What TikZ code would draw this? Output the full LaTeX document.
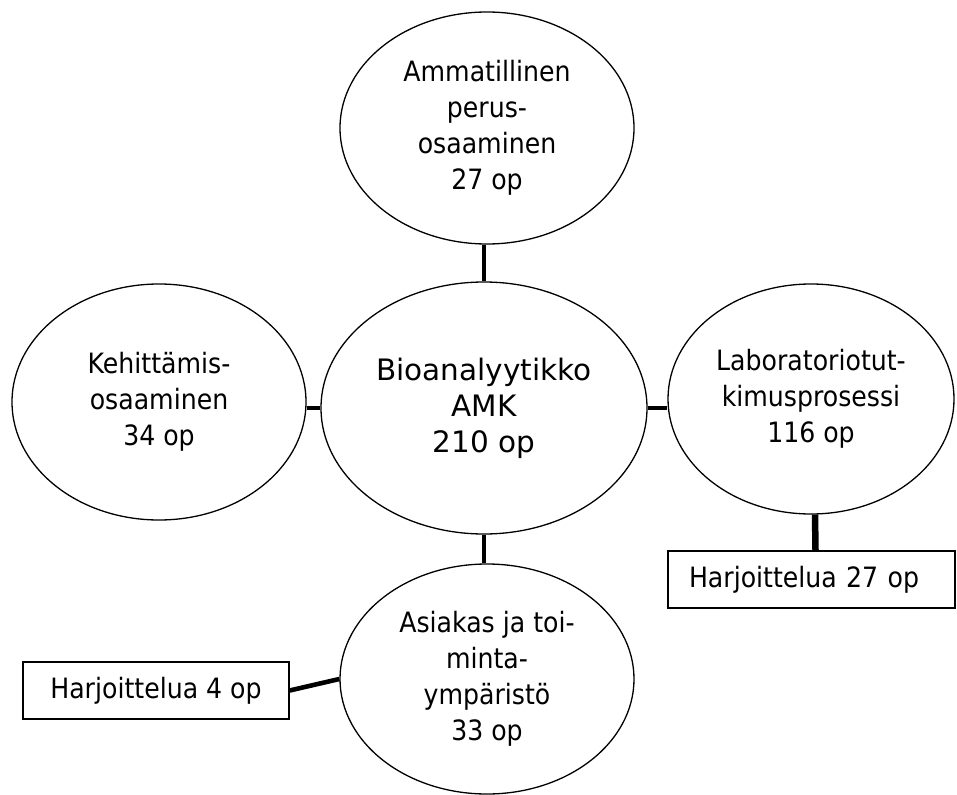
\documentclass[tikz,border=0pt]{standalone}
\usepackage{fontspec}
\setmainfont{DejaVu Sans}
\newfontfamily\tahfont[FakeStretch=0.9]{DejaVu Sans}
\newfontfamily\verfont{DejaVu Sans}
\usetikzlibrary{shapes.geometric,calc}
\tikzset{
  ov/.style={draw=black, line width=1.3pt, ellipse, inner sep=0pt, align=center,
    font=\tahfont\fontsize{28}{36}\selectfont},
  boxnode/.style={draw=black, line width=1.3pt, rectangle, inner sep=0pt, align=center,
    font=\tahfont\fontsize{28}{36}\selectfont},
  conn/.style={line width=4.6pt, black},
}
\begin{document}
\begin{tikzpicture}[x=1pt,y=-1pt]
\useasboundingbox (0,0) rectangle (957,794);
\fill[white] (0,0) rectangle (957,794);
\node[ov, minimum width=294pt, minimum height=232pt] (T) at (487,128)
  {Ammatillinen\\perus-\\osaaminen\\27 op};
\node[ov, minimum width=326pt, minimum height=252pt,
  font=\verfont\fontsize{29.5}{36}\selectfont] (C) at (484,408)
  {Bioanalyytikko\\AMK\\210 op};
\node[ov, minimum width=294pt, minimum height=236pt] (L) at (159,402)
  {Kehitt\"amis-\\osaaminen\\34 op};
\node[ov, minimum width=286pt, minimum height=230pt] (R) at (811,399)
  {Laboratoriotut-\\kimusprosessi\\116 op};
\node[ov, minimum width=294pt, minimum height=230pt] (B) at (487,679)
  {Asiakas ja toi-\\minta-\\ymp\"arist\"o\\33 op};
\node[boxnode, minimum width=266pt, minimum height=57pt] (BL) at (156,690.5)
  {Harjoittelua 4 op};
\node[boxnode, minimum width=287pt, minimum height=57pt, text width=287pt, align=left] (BR) at (811.5,579.5)
  {\hspace*{21pt}Harjoittelua 27 op};
\draw[conn] (C.north) -- (C.north |- T.south);
\draw[conn] (C.south) -- (C.south |- B.north);
\draw[conn] (C.west) -- (L.east |- C.west);
\draw[conn] (C.east) -- (R.west |- C.east);
\draw[conn, line width=6.5pt] ($(R.south)+(4,0)$) -- ($(BR.north)+(4,0)$);
\draw[conn] (BL.east) -- (B.west);
\end{tikzpicture}
\end{document}
